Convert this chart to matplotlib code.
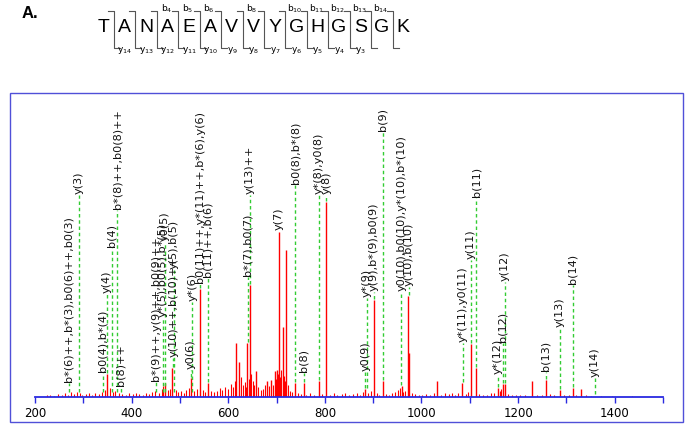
import matplotlib
matplotlib.use("Agg")
import matplotlib.pyplot as plt
from matplotlib.patches import Rectangle

# peptide and the fragment ions marked in the header
sequence = list("TANAEAVVYGHGSGK")
b_marked = [4, 5, 6, 8, 10, 11, 12, 13, 14]
y_marked = [14, 13, 12, 11, 10, 9, 8, 7, 6, 5, 4, 3]

# main peaks (m/z, relative intensity %)
peak_mz = [350, 470, 484.6, 522.5, 542.5, 558.4, 617, 622, 639, 644.7, 658.5,
           680.6, 688, 696, 700.6, 705.4, 713.7, 720.6, 739, 756.5, 787, 803.4,
           884, 902, 919.4, 958.7, 972.6, 975, 1033, 1084.4, 1102, 1112.5,
           1157.5, 1168, 1172.6, 1229, 1256.8, 1286.4, 1312.7, 1330]
peak_int = [11.6, 7.0, 14.7, 9.9, 55.3, 7.3, 27.8, 17.8, 27.8, 57.3, 13.3,
            8.2, 8.7, 13.3, 13.8, 84.6, 36.0, 75.3, 7.0, 7.0, 8.2, 100,
            4.1, 49.7, 8.2, 5.6, 51.9, 22.4, 8.2, 7.3, 27.0, 15.0,
            4.8, 6.5, 6.5, 8.2, 8.7, 3.6, 4.8, 4.1]

# small background peaks
noise_mz = [225, 232, 240, 248, 255, 262, 268, 274, 280, 286, 293, 298, 305, 312,
            318, 325, 332, 338, 344, 356, 362, 366, 374, 381, 388, 395, 402, 409,
            416, 423, 430, 437, 443, 449, 456, 462, 466, 476, 480, 491, 496, 502,
            508, 513, 518, 530, 535, 548, 552, 564, 570, 576, 582, 588, 594, 600,
            605, 610, 613, 626, 630, 634, 636, 642, 648, 651, 654, 662, 667, 672,
            676, 684, 692, 698, 703, 707, 710, 716, 718, 724, 728, 733, 745, 750,
            762, 770, 778, 795, 810, 818, 826, 835, 842, 850, 858, 866, 872, 878,
            890, 895, 908, 913, 926, 932, 940, 946, 952, 956, 962, 966, 980, 986,
            994, 1002, 1010, 1018, 1025, 1040, 1048, 1056, 1063, 1070, 1076, 1092,
            1096, 1120, 1128, 1136, 1144, 1150, 1162, 1165, 1180, 1188, 1196, 1205,
            1215, 1240, 1250, 1266, 1275, 1296, 1305, 1320, 1340, 1350, 1372, 1395,
            1435]
noise_int = [0.8, 1.2, 0.6, 1.5, 1.0, 2.0, 1.2, 2.4, 1.5, 2.8, 2.0, 1.2, 1.6, 2.2,
             1.0, 1.8, 1.3, 2.5, 3.5, 4.5, 2.8, 3.2, 2.0, 1.6, 1.2, 1.8, 1.4, 2.2,
             1.6, 1.0, 2.0, 1.5, 2.4, 3.0, 2.2, 4.0, 5.5, 3.5, 4.2, 3.8, 2.5, 3.2,
             2.0, 3.5, 4.5, 3.0, 4.0, 3.5, 2.8, 3.2, 2.5, 3.0, 4.5, 3.8, 5.0, 4.2,
             6.5, 5.0, 8.0, 10.0, 6.0, 7.5, 5.0, 9.0, 12.0, 8.0, 6.0, 5.0, 3.5, 4.0,
             6.0, 5.5, 6.0, 9.0, 12.0, 10.0, 14.0, 11.0, 8.0, 6.0, 3.0, 2.5, 2.0, 1.5,
             1.2, 1.8, 1.0, 1.6, 1.2, 2.0, 1.0, 1.4, 1.8, 1.0, 1.5, 2.0, 1.2, 2.4,
             2.0, 3.0, 2.0, 1.2, 1.5, 1.0, 2.2, 2.8, 3.5, 4.5, 2.5, 3.0, 2.0, 1.4,
             1.0, 1.2, 1.6, 1.0, 1.8, 1.2, 2.0, 1.4, 1.8, 1.2, 2.0, 1.5,
             2.5, 1.4, 1.0, 1.2, 1.8, 2.0, 3.0, 4.0, 1.5, 1.0, 1.2, 0.8,
             1.0, 1.2, 0.8, 1.4, 0.8, 1.2, 0.8, 1.0, 0.8, 0.6, 0.6, 0.5,
             0.6]

# annotations: m/z, label, where the dashed line starts, where the label starts
ann_mz = [270, 291, 340, 348.5, 358.5, 370, 377, 451.5, 464, 468.5, 486, 487.5,
          522.5, 525.5, 542.5, 557.5, 640, 645, 705.4, 739, 756.5, 787, 803.4,
          884, 886.5, 902, 919.4, 958.5, 974.5, 1086, 1102, 1113, 1157.5, 1168.5,
          1173, 1257, 1287, 1313, 1359]
ann_text = ["b*(6)++,b*(3),b0(6)++,b0(3)", "y(3)", "b0(4),b*(4)", "y(4)", "b(4)",
            "b*(8)++,b0(8)++", "b(8)++", "b*(9)++,y(9)++,b0(9)++",
            "y*(5),b0(5),b*(5)", "y0(5)", "y(10)++,b(10)++", "y(5),b(5)",
            "y0(6)", "y*(6)", "b0(11)++,y*(11)++,b*(6),y(6)", "b(11)++,b(6)",
            "b*(7),b0(7)", "y(13)++", "y(7)", "b0(8),b*(8)", "b(8)", "y*(8),y0(8)",
            "y(8)", "y0(9)", "y*(9)", "y(9),b*(9),b0(9)", "b(9)",
            "y0(10),b0(10),y*(10),b*(10)", "y(10),b(10)", "y*(11),y0(11)", "y(11)",
            "b(11)", "y*(12)", "b(12)", "y(12)", "b(13)", "y(13)", "b(14)", "y(14)"]
ann_start = [2, 2, 2, 11.6, 2, 2, 2, 2, 2, 2, 14.7, 2,
             9.9, 2, 55.3, 7.3, 27.8, 57.3, 84.6, 7.0, 7.0, 8.2, 100,
             4.1, 4.1, 49.7, 8.2, 5.6, 51.9, 7.3, 27.0, 15.0, 4.8, 6.5,
             6.5, 8.7, 3.6, 4.8, 1]
ann_label = [7.2, 103.4, 12.1, 52.6, 76.1, 95.7, 5.3, 7.8, 40.3, 79.5, 19.8, 65,
             13.8, 48.8, 57.7, 60.8, 61.6, 103.4, 85, 108.5, 12.1, 103.4, 103.4,
             13, 50.8, 53.9, 135.8, 53.9, 56.5, 27.5, 70.1, 101.7, 11.3, 27.5,
             59, 13, 35.2, 57.3, 9.6]

fig = plt.figure(figsize=(6.91, 4.34), dpi=100)

# overlay in pixel coordinates for the header and the frame
ov = fig.add_axes([0, 0, 1, 1])
ov.set_xlim(0, 691)
ov.set_ylim(434, 0)
ov.axis("off")

ov.text(22, 14, "A.", fontsize=12, fontweight="bold", family="Liberation Sans",
        ha="left", va="center")

x0, step = 103.3, 300 / 14
for i, aa in enumerate(sequence):
    ov.text(x0 + i * step, 27, aa, fontsize=14, family="Liberation Sans",
            ha="center", va="center")

for k in range(len(sequence) - 1):
    bx = x0 + (k + 0.5) * step
    ov.plot([bx - 6, bx, bx, bx + 6], [10.7, 10.7, 48.3, 48.3], color="#555555", lw=0.8)
    if (k + 1) in b_marked:
        ov.text(bx - 12, 9, r"b$_{%d}$" % (k + 1), fontsize=6.5, ha="center", va="center")
    if (14 - k) in y_marked:
        ov.text(bx + 11, 51, r"y$_{%d}$" % (14 - k), fontsize=6.5, ha="center", va="center")

ov.add_patch(Rectangle((10, 93), 673, 329, fill=False, edgecolor="#5050d8", lw=1.0))

# spectrum
ax = fig.add_axes([35 / 691, 37 / 434, 628 / 691, 304 / 434])
ax.patch.set_alpha(0)
ax.set_xlim(200, 1500)
ax.set_ylim(0, 155.7)

ax.vlines(noise_mz, 0, noise_int, color="red", lw=0.8)
ax.vlines(peak_mz, 0, peak_int, color="red", lw=1.0)

for mz, txt, s, lab in zip(ann_mz, ann_text, ann_start, ann_label):
    ax.plot([mz, mz], [s + 0.5, lab], color="#33cc33", lw=1.0, ls=(0, (2.5, 2)))
    ax.text(mz, lab + 0.5, txt, rotation=90, ha="center", va="bottom",
            fontsize=8.1, color="#111111", clip_on=False)

for side in ["top", "left", "right"]:
    ax.spines[side].set_visible(False)
ax.spines["bottom"].set_color("#2a2ae0")
ax.spines["bottom"].set_linewidth(1.3)
ax.set_yticks([])
ax.set_xticks(range(200, 1501, 100))
ax.set_xticklabels([str(v) if v % 200 == 0 and v < 1500 else "" for v in range(200, 1501, 100)])
ax.tick_params(axis="x", colors="#2a2ae0", length=4, width=1.0, labelsize=8.5,
               labelcolor="black", pad=3)

fig.savefig("out.png", dpi=100)
